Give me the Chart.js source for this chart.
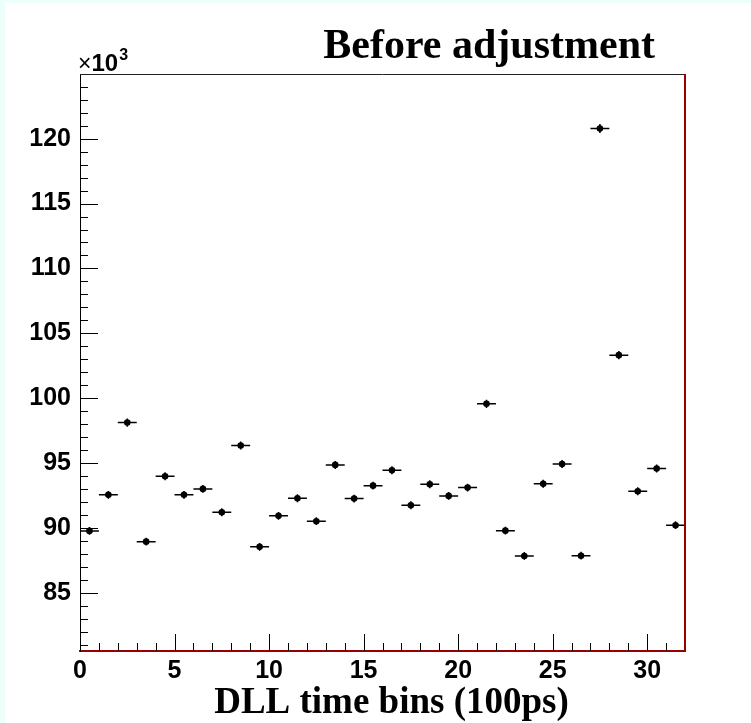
<!DOCTYPE html>
<html>
<head>
<meta charset="utf-8">
<script src="https://cdn.jsdelivr.net/npm/chart.js@4/dist/chart.umd.min.js"></script>
<style>
html,body{margin:0;padding:0;background:#ffffff;}
canvas{display:block;}
</style>
</head>
<body>
<canvas id="c" width="751" height="723"></canvas>
<script>
// ---- data (values in units of 10^3 counts) ----
const chartTitle = 'Before adjustment';
const xAxisTitle = 'DLL time bins (100ps)';
const yMultiplierBase = '\u00d710';
const yMultiplierExp = '3';
const binCenters = [0.5,1.5,2.5,3.5,4.5,5.5,6.5,7.5,8.5,9.5,10.5,11.5,12.5,13.5,14.5,15.5,
                    16.5,17.5,18.5,19.5,20.5,21.5,22.5,23.5,24.5,25.5,26.5,27.5,28.5,29.5,30.5,31.5];
const binCounts = [89.76,92.54,98.11,88.93,93.98,92.54,93.00,91.20,96.34,88.53,90.92,92.28,90.51,94.85,92.25,93.25,
                   94.44,91.74,93.36,92.46,93.10,99.56,89.78,87.83,93.39,94.91,87.85,120.79,103.31,92.82,94.57,90.20];
const xTickLabels = [0,5,10,15,20,25,30];
const yTickLabels = [85,90,95,100,105,110,115,120];
const xRange = [0,32];
const yRange = [80.5,124.99];

const points = binCenters.map((x,i)=>({x:x, y:binCounts[i]}));

const tickFont = {family:"'Liberation Sans',Arial,sans-serif", size:25, weight:'bold'};

const rootStyle = {
  id:'rootStyle',
  beforeDraw(chart){
    const ctx = chart.ctx;
    ctx.save();
    ctx.fillStyle = '#ffffff';
    ctx.fillRect(0,0,chart.width,chart.height);
    ctx.fillStyle = '#ecfffb';
    ctx.fillRect(0,0,chart.width,3);
    ctx.fillRect(0,0,5,chart.height);
    ctx.restore();
  },
  beforeDatasetsDraw(chart){
    const ctx = chart.ctx, xs = chart.scales.x, ys = chart.scales.y;
    ctx.save();
    ctx.strokeStyle = '#000000';
    ctx.lineWidth = 1.5;
    points.forEach(p=>{
      const px = xs.getPixelForValue(p.x), py = ys.getPixelForValue(p.y);
      const x0 = xs.getPixelForValue(p.x-0.5), x1 = xs.getPixelForValue(p.x+0.5);
      const err = Math.sqrt(p.y*1000)/1000;
      const y0 = ys.getPixelForValue(p.y-err), y1 = ys.getPixelForValue(p.y+err);
      ctx.beginPath();
      ctx.moveTo(x0,py); ctx.lineTo(x1,py);
      ctx.moveTo(px,y0); ctx.lineTo(px,y1);
      ctx.stroke();
    });
    ctx.restore();
  },
  afterDraw(chart){
    const ctx = chart.ctx, xs = chart.scales.x, ys = chart.scales.y, a = chart.chartArea;
    ctx.save();
    // inward ticks
    ctx.strokeStyle = '#000000';
    ctx.lineWidth = 1;
    ctx.beginPath();
    for(let v=Math.ceil(xRange[0])+1; v<xRange[1]; v++){
      const px = Math.round(xs.getPixelForValue(v))+0.5;
      const len = (v%5===0)?17:8;
      ctx.moveTo(px,a.bottom); ctx.lineTo(px,a.bottom-len);
    }
    for(let v=Math.ceil(yRange[0]); v<yRange[1]; v++){
      const py = Math.round(ys.getPixelForValue(v))+0.5;
      const len = (v%5===0)?18:8;
      ctx.moveTo(a.left,py); ctx.lineTo(a.left+len,py);
    }
    ctx.stroke();
    // frame top
    ctx.strokeStyle = '#222222';
    ctx.lineWidth = 1;
    ctx.beginPath();
    ctx.moveTo(a.left,a.top+0.5); ctx.lineTo(a.right,a.top+0.5);
    ctx.stroke();
    // frame right (dark red)
    ctx.strokeStyle = '#9a0000';
    ctx.lineWidth = 2;
    ctx.beginPath();
    ctx.moveTo(a.right,a.top); ctx.lineTo(a.right,a.bottom+1);
    ctx.stroke();
    // title
    ctx.fillStyle = '#000000';
    ctx.font = "bold 42px 'Liberation Serif','Times New Roman',serif";
    ctx.textAlign = 'right';
    ctx.textBaseline = 'alphabetic';
    ctx.fillText(chartTitle, 655, 58);
    // x axis title
    ctx.font = "bold 37px 'Liberation Serif','Times New Roman',serif";
    ctx.textAlign = 'center';
    ctx.fillText(xAxisTitle, (a.left+a.right)/2 + 9, 713);
    // x10^3
    ctx.textAlign = 'left';
    ctx.font = "23px 'Liberation Sans',Arial,sans-serif";
    ctx.fillText(yMultiplierBase.charAt(0), 78, 71);
    const wx = ctx.measureText(yMultiplierBase.charAt(0)).width;
    ctx.font = "bold 24px 'Liberation Sans',Arial,sans-serif";
    ctx.fillText(yMultiplierBase.slice(1), 78+wx, 71);
    const w10 = ctx.measureText(yMultiplierBase.slice(1)).width;
    ctx.font = "bold 16px 'Liberation Sans',Arial,sans-serif";
    ctx.fillText(yMultiplierExp, 78+wx+w10+1, 60);
    ctx.restore();
  }
};

new Chart(document.getElementById('c').getContext('2d'), {
  type:'scatter',
  data:{datasets:[{
    data:points,
    backgroundColor:'#000000',
    borderColor:'#000000',
    borderWidth:0,
    pointRadius:3.3,
    pointHoverRadius:3.3,
    pointStyle:'circle'
  }]},
  options:{
    responsive:false,
    animation:false,
    devicePixelRatio:1,
    layout:{padding:{left:0,right:66,top:74,bottom:0}},
    plugins:{legend:{display:false}, tooltip:{enabled:false}, title:{display:false}},
    scales:{
      x:{
        type:'linear', min:xRange[0], max:xRange[1],
        afterFit(s){ s.height = 72; },
        afterBuildTicks(s){ s.ticks = xTickLabels.map(v=>({value:v})); },
        grid:{display:false, drawTicks:false},
        border:{display:true, color:'#9a0000', width:2},
        ticks:{font:tickFont, color:'#000000', padding:5, maxRotation:0, autoSkip:false},
        title:{display:false, text:xAxisTitle}
      },
      y:{
        type:'linear', min:yRange[0], max:yRange[1],
        afterFit(s){ s.width = 80; },
        afterBuildTicks(s){ s.ticks = yTickLabels.map(v=>({value:v})); },
        grid:{display:false, drawTicks:false},
        border:{display:true, color:'#000000', width:1},
        ticks:{font:tickFont, color:'#000000', padding:9, autoSkip:false}
      }
    }
  },
  plugins:[rootStyle]
});
</script>
</body>
</html>
